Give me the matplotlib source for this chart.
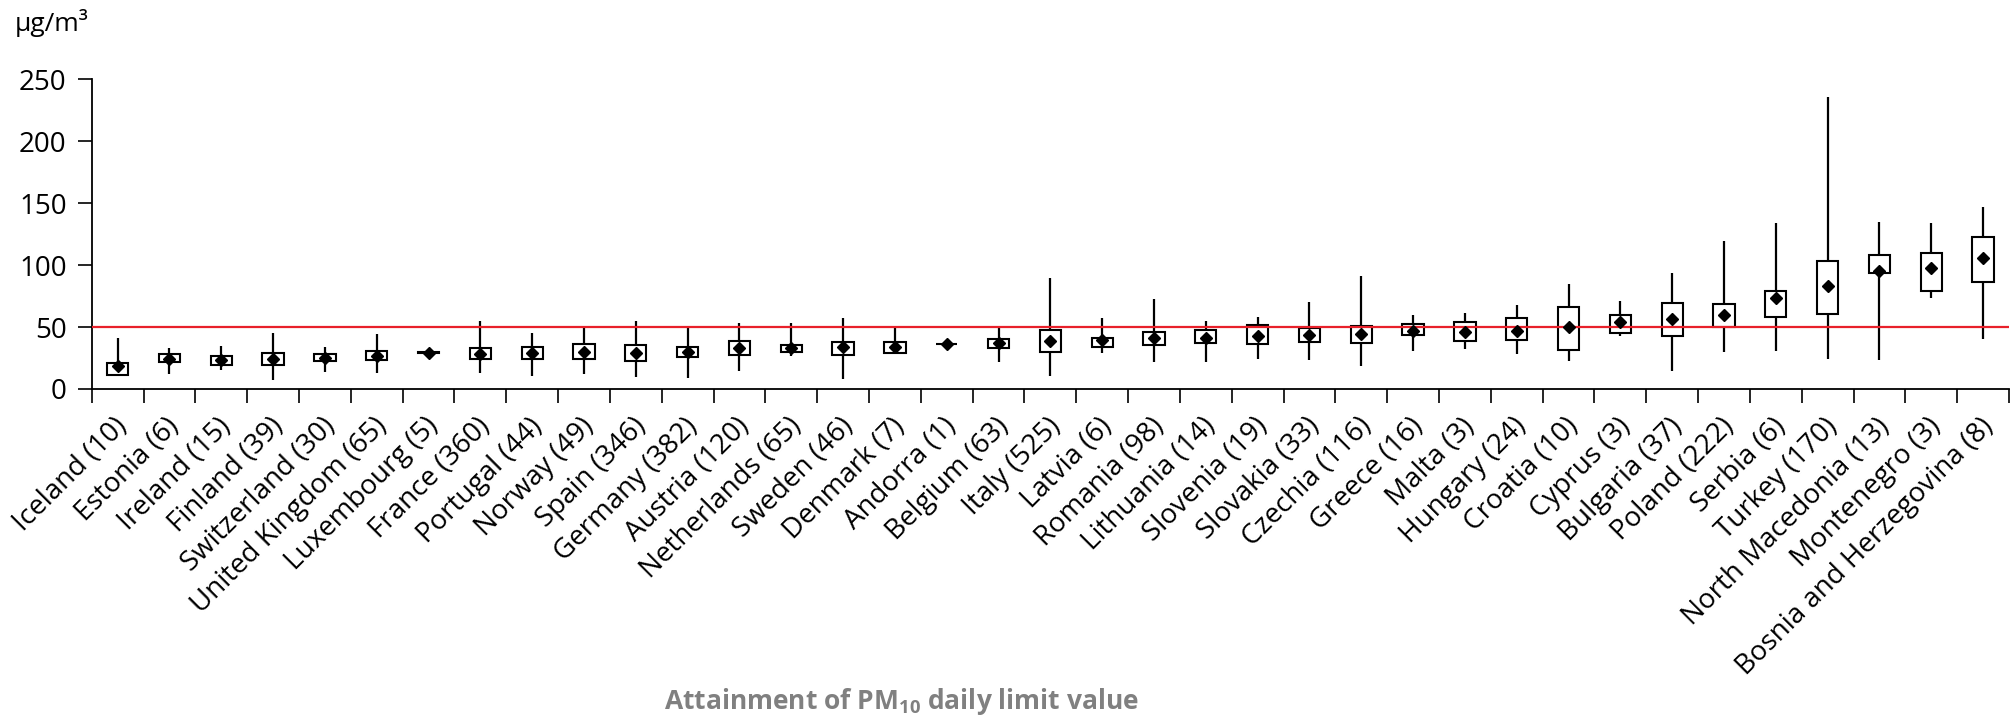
import matplotlib
matplotlib.use("Agg")
import matplotlib.pyplot as plt
from matplotlib import font_manager
from matplotlib.transforms import ScaledTranslation

plt.rcParams["font.family"] = ["Open Sans", "DejaVu Sans"]
plt.rcParams["mathtext.default"] = "regular"

# PM10 daily values per country (number of stations in brackets)
countries = ["Iceland", "Estonia", "Ireland", "Finland", "Switzerland", "United Kingdom",
             "Luxembourg", "France", "Portugal", "Norway", "Spain", "Germany", "Austria",
             "Netherlands", "Sweden", "Denmark", "Andorra", "Belgium", "Italy", "Latvia",
             "Romania", "Lithuania", "Slovenia", "Slovakia", "Czechia", "Greece", "Malta",
             "Hungary", "Croatia", "Cyprus", "Bulgaria", "Poland", "Serbia", "Turkey",
             "North Macedonia", "Montenegro", "Bosnia and Herzegovina"]
stations = [10, 6, 15, 39, 30, 65, 5, 360, 44, 49, 346, 382, 120, 65, 46, 7, 1, 63, 525, 6,
            98, 14, 19, 33, 116, 16, 3, 24, 10, 3, 37, 222, 6, 170, 13, 3, 8]
mins = [11, 11.8, 15.3, 7.3, 14, 12.7, 28, 12.7, 10.7, 12.1, 9.9, 9.1, 14.8, 26.6, 8.1,
        28.8, 36.1, 22.1, 10.7, 28.8, 22.1, 22.1, 24, 23.4, 18.8, 30.7, 32.3, 28, 22.6,
        42.8, 14.5, 30.1, 30.7, 24, 23.4, 73.2, 40.4]
q1s = [11, 21.5, 19.6, 19.4, 22.6, 23.4, 29.2, 24, 24, 24.2, 22.9, 26.1, 27.2, 30.1, 27.2,
       28.8, 36.1, 32.8, 30.1, 34.2, 35.5, 36.9, 36, 37.7, 36.9, 43.6, 39, 39.5, 31.5,
       44.9, 43, 50.3, 57.9, 60.5, 93.9, 79.1, 86.6]
q3s = [21, 28, 26.6, 28.8, 28, 30.7, 30, 32.8, 34.2, 36, 35.5, 33.6, 38.7, 35.5, 38.2,
       38.2, 36.1, 40.1, 47.6, 40.9, 46.3, 47.6, 51.7, 49, 51.1, 52.5, 53.8, 57, 65.9,
       59.7, 69.2, 68.6, 79.1, 103.3, 108.2, 109.5, 122.4]
maxs = [41, 33.3, 34.7, 44.9, 34.2, 44.1, 30.5, 55.1, 45.4, 50.8, 55.1, 49, 53.5, 53.5, 57,
        49, 36.1, 49, 89.3, 57, 72.4, 55.1, 58.4, 70.5, 91.2, 59.7, 61.1, 67.8, 84.7,
        71, 93.4, 119.5, 134.2, 235.4, 134.5, 133.7, 147.1]
means = [18.6, 24.5, 23.4, 24.2, 25.3, 26.9, 28.7, 28.2, 29.3, 30.1, 29.3, 30.1, 33.4, 32.8,
         33.6, 34.2, 36.1, 36.9, 39, 39.5, 40.9, 41.4, 42.8, 43.6, 44.4, 46.8, 46.3, 47.1,
         49.8, 54.3, 56.2, 59.7, 73.7, 83.1, 95.2, 97.4, 105.5]
limit_value = 50

labels = [f"{c} ({n})" for c, n in zip(countries, stations)]
x = list(range(len(countries)))

fig = plt.figure(figsize=(20.11, 7.17), dpi=100)
ax = fig.add_axes([0.0456, 0.4575, 0.9534, 0.4319])

ax.vlines(x, mins, maxs, color="black", linewidth=1.6, zorder=2)
heights = [b - a for a, b in zip(q1s, q3s)]
ax.bar(x, heights, bottom=q1s, width=0.41, color="white", edgecolor="black",
       linewidth=1.5, zorder=3)
ax.axhline(limit_value, color="#e8202a", linewidth=1.6, zorder=4)
ax.plot(x, means, linestyle="none", marker="D", markersize=6.3, color="black", zorder=5)

ax.set_xlim(-0.5, len(countries) - 0.5)
ax.set_ylim(0, 250)
ax.set_yticks([0, 50, 100, 150, 200, 250])
ax.tick_params(axis="y", direction="out", length=10, width=1.2, pad=8, labelsize=20)

ax.set_xticks(x)
ax.set_xticklabels(labels, rotation=45, ha="right", va="center", rotation_mode="anchor",
                   fontsize=20)
ax.set_xticks([i - 0.5 for i in range(len(countries) + 1)], minor=True)
ax.tick_params(axis="x", which="major", length=0, pad=24)
ax.tick_params(axis="x", which="minor", direction="out", length=10, width=1.2)
shift = ScaledTranslation(0.06, 0, fig.dpi_scale_trans)
for lab in ax.get_xticklabels():
    lab.set_transform(lab.get_transform() + shift)

for side in ["top", "right"]:
    ax.spines[side].set_visible(False)
for side in ["left", "bottom"]:
    ax.spines[side].set_linewidth(1.3)

fig.text(15 / 2011, 1 - 31 / 717, "μg/m³", fontsize=19, ha="left", va="baseline")

# the source uses a condensed bold face for the axis title
try:
    font_manager.findfont("Liberation Sans Narrow", fallback_to_default=False)
    title_family, title_size = ["Liberation Sans Narrow", "DejaVu Sans"], 20
except ValueError:
    title_family, title_size = ["Open Sans", "DejaVu Sans"], 19
fig.text(901 / 2011, 1 - 709 / 717, "Attainment of PM$_{10}$ daily limit value",
         family=title_family, fontsize=title_size, fontweight="bold", color="#808080",
         ha="center", va="baseline")

fig.savefig("out.png", dpi=100)
